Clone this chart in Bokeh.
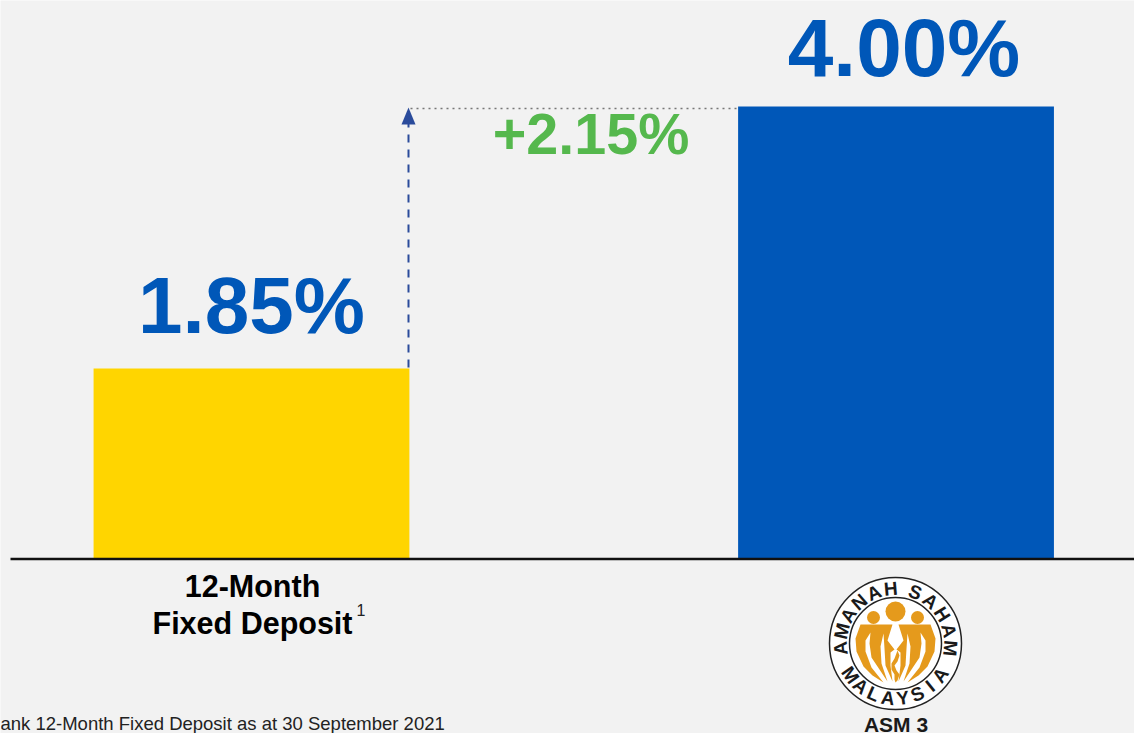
import math
from bokeh.plotting import figure
from bokeh.models import Range1d, ColumnDataSource
from bokeh.core.properties import value
from bokeh.embed import file_html
from bokeh.resources import INLINE

categories = ["12-Month Fixed Deposit", "ASM 3"]
returns = [1.85, 4.00]
labels = ["1.85%", "4.00%"]
diff_label = "+2.15%"
colors = ["#FFD500", "#0057B8"]
BASE = 0.291
BG = "#F2F2F2"
BLUE = "#0057B8"
ORANGE = "#E59A1C"
SANS = value("Liberation Sans")

p = figure(width=1134, height=733, output_backend="svg", toolbar_location=None,
           x_range=Range1d(-0.3894, 1.3700), y_range=Range1d(-1.145, 4.870),
           background_fill_color=BG, border_fill_color=BG, outline_line_color=None,
           min_border=0, margin=(0, 0, 0, 0))
p.axis.visible = False
p.grid.visible = False
p.extra_x_ranges["px"] = Range1d(0, 1134)
p.extra_y_ranges["px"] = Range1d(733, 0)
PX = dict(x_range_name="px", y_range_name="px")

xs = list(range(len(categories)))
src = ColumnDataSource(dict(x=xs, top=returns, bottom=[BASE] * 2, color=colors, label=labels))
p.vbar(x="x", top="top", bottom="bottom", width=0.49, fill_color="color", line_color=None, source=src)

# value labels, anchored on the bars
p.text(x=[0], y=[returns[0]], text=[labels[0]], text_font=SANS, text_font_style="bold",
       text_font_size="80px", text_color=BLUE, text_align="center", text_baseline="bottom", y_offset=-19)
p.text(x=[1], y=[returns[1]], text=[labels[1]], text_font=SANS, text_font_style="bold",
       text_font_size="82px", text_color=BLUE, text_align="center", text_baseline="bottom", x_offset=8, y_offset=-14)

# baseline
p.line([10, 1134], [558.5, 558.5], line_color="#111111", line_width=2.5, **PX)

# dashed arrow and dotted level
p.line([408, 408], [367, 122], line_color="#2A4B9B", line_width=2, line_dash="8 7", **PX)
p.patch([408, 401, 415], [107, 124, 124], fill_color="#2A4B9B", line_color=None, **PX)
p.line([410, 737], [108, 108], line_color="#777777", line_width=1.5, line_dash="2 4", **PX)
p.text(x=[590.5], y=[133], text=[diff_label], text_font=SANS, text_font_style="bold", text_font_size="57.5px",
       text_color="#55B84D", text_align="center", text_baseline="alphabetic", **PX)

# category labels
p.text(x=[252, 252], y=[585.5, 622.5], text=["12-Month", "Fixed Deposit"], text_font=SANS, text_font_style="bold",
       text_font_size="30.5px", text_color="#000000", text_align="center", text_baseline="alphabetic", **PX)
p.text(x=[356], y=[609], text=["1"], text_font=SANS, text_font_size="16px", text_color="#222222",
       text_align="left", text_baseline="alphabetic", **PX)
p.text(x=[895.5], y=[724], text=["ASM 3"], text_font=SANS, text_font_style="bold", text_font_size="21px",
       text_color="#1A1A1A", text_align="center", text_baseline="alphabetic", **PX)
p.text(x=[0], y=[723], text=["ank 12-Month Fixed Deposit as at 30 September 2021"], text_font=SANS,
       text_font_size="18.5px", text_color="#222222", text_align="left", text_baseline="alphabetic", **PX)

# logo
CX, CY = 895, 643
p.circle(x=[CX], y=[CY], radius=66, fill_color="white", line_color="#222222", line_width=1.5, **PX)
p.circle(x=[CX], y=[CY], radius=46, fill_color="white", line_color="#222222", line_width=1.5, **PX)
# heads
p.circle(x=[CX, CX - 22, CX + 22], y=[CY - 32, CY - 26, CY - 26], radius=[10, 6.5, 6.5],
         fill_color=ORANGE, line_color=None, **PX)
# figures: one body with slits
body = [(-35, -19), (-40, -5), (-39, 8), (-32, 23), (-23, 32), (-12, 39), (-24, 24), (-30, 8), (-30, -3), (-25, -11),
        (-26, 0), (-24, 14), (-8, 38), (-14, 20), (-15, 3), (-12, -10), (-11, 5), (-10, 22), (-3, 38), (-5, 22),
        (-5, 9), (-1, 6), (-8, -3), (-3, -19)]
for s in (-1, 1):
    p.patch([CX + s * a for a, b in body], [CY + b for a, b in body], fill_color=ORANGE, line_color=None, **PX)
# flame
fl = [(2, 7), (4, 12), (2, 18), (-1, 22), (1, 27), (4, 31), (2, 37), (0, 39), (-1, 36), (-1, 31), (-4, 26), (-4, 20), (-1, 15)]
p.patch([CX + a for a, b in fl], [CY + b for a, b in fl], fill_color=ORANGE, line_color=None, **PX)

def letter(ch, ang, flip, radius=55):
    r = math.radians(ang)
    rot = math.pi - r if flip else -r
    p.text(x=[CX + radius * math.sin(r)], y=[CY - radius * math.cos(r)], text=[ch], text_font=SANS,
           text_font_style="bold", text_font_size="19px", text_color="#1A1A1A", text_align="center",
           text_baseline="middle", angle=[rot], **PX)
for i, ch in enumerate("AMANAH"):
    letter(ch, -95 + i * 18, False)
for i, ch in enumerate("SAHAM"):
    letter(ch, 21 + i * 18.5, False)
for i, ch in enumerate("MALAYSIA"):
    letter(ch, 235 - i * 15.7, True)

open("out.html", "w").write(file_html(p, INLINE))
